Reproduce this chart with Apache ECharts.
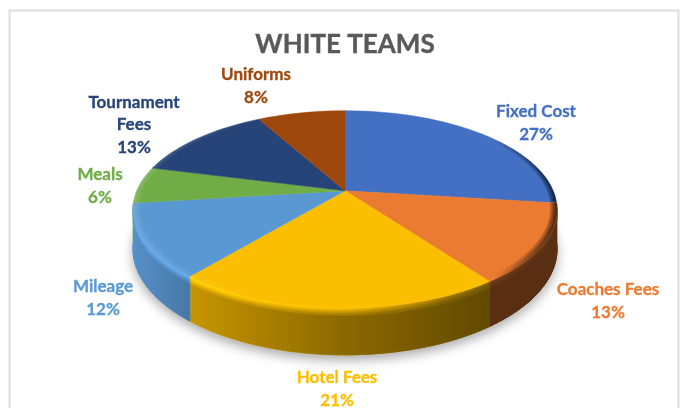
<!DOCTYPE html>
<html>
<head>
<meta charset="utf-8">
<style>
  html, body { margin: 0; padding: 0; background: #fff; }
  #main { width: 681px; height: 408px; }
</style>
<script src="https://cdn.jsdelivr.net/npm/echarts@6/dist/echarts.min.js"></script>
</head>
<body>
<div id="main"></div>
<script>
const categories = ['Fixed Cost', 'Coaches Fees', 'Hotel Fees', 'Mileage', 'Meals', 'Tournament\nFees', 'Uniforms'];
const shares = [27, 13, 21, 12, 6, 13, 8];
const colors = ['#4370C2', '#EB7B31', '#FCBE00', '#5A98D4', '#70AD47', '#264478', '#9E480E'];
// centre of each label block, px
const labelAnchors = [[536, 123], [608, 301], [337, 389], [103, 298], [100, 186], [134, 125], [256, 86]];

// perspective of the tilted disc, fitted to the reference
const CX = 345, CY = 190.7, A = 208.2, B = 95.1, K = 0.189, DEPTH = 38;
const LEFT = 133, RIGHT = 557;
// part of the wall that faces the viewer, degrees
const WALL_FROM = 97, WALL_TO = 263;

function pt(deg, r, d) {
  const a = deg * Math.PI / 180;
  const x = Math.sin(a) * r, y = Math.cos(a) * r;
  const w = 1 + K * y;
  return [CX + A * x / w, CY - B * y / w + DEPTH * d / w];
}
function arc(from, to, r, d) {
  const n = Math.max(2, Math.ceil((to - from) / 2));
  const out = [];
  for (let i = 0; i <= n; i++) out.push(pt(from + (to - from) * i / n, r, d));
  return out;
}
function sliceRange(i) {
  let sum = 0;
  for (let j = 0; j < i; j++) sum += shares[j];
  return [sum * 3.6, (sum + shares[i]) * 3.6];
}
function shade(hex, f) {
  const c = [1, 3, 5].map(p => Math.min(255, Math.round(parseInt(hex.substr(p, 2), 16) * f)));
  return 'rgb(' + c.join(',') + ')';
}
function lerp(a, b, t) { return a + (b - a) * t; }
// brightness across the pie width
const sidePos = [0, 0.14, 0.5, 0.85, 1];
const sideLight = [0.95, 0.78, 0.55, 0.38, 0.38];
const rimLight = [1.15, 1.15, 1.0, 0.5, 0.42];

function bandFill(hex, t) {
  return new echarts.graphic.LinearGradient(LEFT, 0, RIGHT, 0, sidePos.map((p, n) => ({
    offset: p,
    color: shade(hex, lerp(rimLight[n], sideLight[n], t))
  })), true);
}

function renderSide(params) {
  const i = params.dataIndex;
  const range = sliceRange(i);
  const from = Math.max(range[0], WALL_FROM), to = Math.min(range[1], WALL_TO);
  const children = [];
  if (i === 0) {
    children.push({
      type: 'polygon',
      shape: { points: arc(0, 360, 1, 1) },
      style: { fill: '#fff', shadowBlur: 12, shadowColor: 'rgba(0,0,0,0.35)', shadowOffsetY: 5 }
    });
  }
  if (to <= from) return { type: 'group', children: children };
  // each band runs to the wall's foot, so the next one overlaps it and no seam shows
  const steps = [0, 0.04, 0.08, 0.12, 0.17];
  steps.forEach((d, s) => {
    const fill = bandFill(colors[i], s / (steps.length - 1));
    children.push({
      type: 'polygon',
      shape: { points: arc(from, to, 1, d).concat(arc(from, to, 1, 1).reverse()) },
      style: { fill: fill, stroke: fill, lineWidth: 0.6 }
    });
  });
  return { type: 'group', children: children };
}

function renderTop(params) {
  const i = params.dataIndex;
  const [from, to] = sliceRange(i);
  const edge = arc(from, to, 1, 0);
  const [lx, ly] = labelAnchors[i];
  const children = [{
    type: 'polygon',
    shape: { points: [[CX, CY]].concat(edge) },
    style: { fill: colors[i], stroke: colors[i], lineWidth: 0.5 }
  }];
  // soft darkening of the disc's right edge
  [0.97, 0.98, 0.99].forEach(r => {
    children.push({
      type: 'polygon',
      shape: { points: edge.concat(arc(from, to, r, 0).reverse()) },
      style: {
        fill: new echarts.graphic.LinearGradient(LEFT, 0, RIGHT, 0, [
          { offset: 0, color: 'rgba(255,255,255,0.05)' },
          { offset: 0.3, color: 'rgba(255,255,255,0)' },
          { offset: 0.85, color: 'rgba(0,0,0,0)' },
          { offset: 1, color: 'rgba(0,0,0,0.3)' }
        ], true)
      }
    });
  });
  children.push({
    type: 'text',
    x: lx,
    y: ly,
    style: {
      text: categories[i] + '\n' + shares[i] + '%',
      fill: colors[i],
      stroke: colors[i],
      lineWidth: 0.3,
      font: 'bold 17px Lato',
      lineHeight: 22.7,
      align: 'center',
      verticalAlign: 'middle'
    }
  });
  return { type: 'group', children: children };
}

const chart = echarts.init(document.getElementById('main'), null, { renderer: 'canvas' });
chart.setOption({
  animation: false,
  backgroundColor: '#fff',
  title: {
    text: 'WHITE TEAMS',
    left: 340,
    top: 27,
    textAlign: 'center',
    textStyle: {
      color: '#595959', fontFamily: 'Lato', fontWeight: 'bold', fontSize: 26,
      textBorderColor: '#595959', textBorderWidth: 0.4
    }
  },
  graphic: [{
    type: 'rect',
    shape: { x: 9.5, y: 10.5, width: 669, height: 410 },
    style: { fill: 'none', stroke: '#DEDEDE', lineWidth: 2 }
  }],
  series: [
    { type: 'custom', coordinateSystem: 'none', renderItem: renderSide, data: shares, silent: true, z: 2 },
    { type: 'custom', coordinateSystem: 'none', renderItem: renderTop, data: shares, silent: true, z: 3 }
  ]
});
</script>
</body>
</html>
